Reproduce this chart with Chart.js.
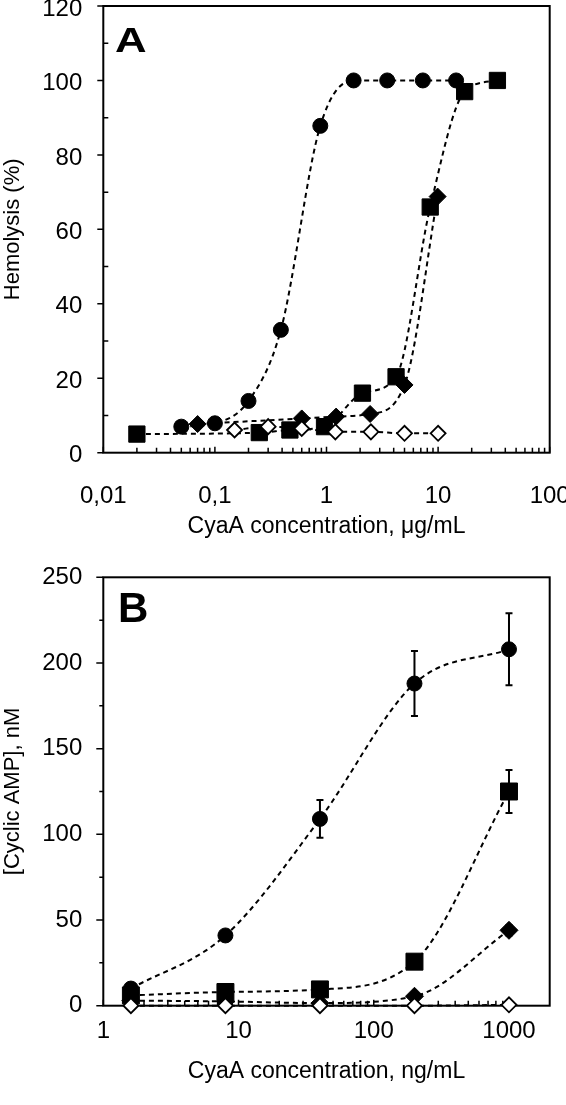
<!DOCTYPE html>
<html>
<head>
<meta charset="utf-8">
<script src="https://cdn.jsdelivr.net/npm/chart.js@4.4.1/dist/chart.umd.min.js"></script>
<style>
  body { margin: 0; background: #fff; }
  canvas { display: block; }
  #wrapA { height: 560px; overflow: hidden; }
  #chartA { margin-top: -20px; }
</style>
</head>
<body>
<div id="wrapA"><canvas id="chartA" width="566" height="580"></canvas></div>
<canvas id="chartB" width="566" height="545"></canvas>
<script>
// Panel A - hemolysis vs CyaA (ug/mL)
var hemoCircleX = [0.05, 0.1, 0.2, 0.39, 0.88, 1.75, 3.5, 7.3, 14.5];
var hemoCircleY = [7.0, 7.9, 13.9, 33, 87.8, 100, 100, 100, 100];
var hemoSquareX = [0.02, 0.25, 0.47, 0.96, 2.1, 4.2, 8.5, 17.3, 34];
var hemoSquareY = [5.0, 5.4, 6.1, 7.0, 16, 20.4, 66, 97, 100];
var hemoDiamondX = [0.07, 0.6, 1.22, 2.46, 5.0, 9.9];
var hemoDiamondY = [7.7, 9.2, 9.7, 10.4, 18.2, 68.8];
var hemoOpenX = [0.15, 0.3, 0.6, 1.2, 2.5, 5, 10];
var hemoOpenY = [6.1, 7.0, 6.5, 5.6, 5.6, 5.2, 5.2];
var hemoXTicks = [0.01, 0.1, 1, 10, 100];
var hemoXLabels = ['0,01', '0,1', '1', '10', '100'];

// Panel B - cAMP vs CyaA (ng/mL)
var campX = [1.6, 8, 40, 200, 1000];
var campCircle = [10, 41, 109, 188, 208];
var campCircleErr = [0, 2, 11, 19, 21];
var campSquare = [6, 8, 9.5, 25.7, 125];
var campSquareErr = [0, 0, 0, 0, 12.5];
var campDiamond = [3, 2.5, 1.5, 5.5, 44];
var campDiamondErr = [0, 0, 0, 0, 3];
var campOpen = [0, 0, 0, 0, 0.5];
var campOpenErr = [0, 0, 0, 0, 1];
var campXTicks = [1, 10, 100, 1000];
var campXLabels = ['1', '10', '100', '1000'];

Chart.defaults.font.family = '"Liberation Sans", Arial, Helvetica, sans-serif';
Chart.defaults.color = '#000';

function pts(xs, ys) {
  return xs.map(function(x, i) { return { x: x, y: ys[i] }; });
}

function series(xs, ys, style, radius, filled, order, errs) {
  return {
    data: pts(xs, ys),
    errors: errs,
    order: order,
    borderColor: '#000',
    borderWidth: 2,
    borderDash: [5, 4],
    cubicInterpolationMode: 'monotone',
    fill: false,
    clip: false,
    pointStyle: style,
    pointRadius: radius,
    pointBorderWidth: filled ? 1 : 1.8,
    pointBorderColor: '#000',
    pointBackgroundColor: filled ? '#000' : '#fff'
  };
}

function minorLog(min, max) {
  var out = [];
  for (var d = min; d < max; d *= 10) {
    for (var k = 2; k <= 9; k++) {
      if (k * d < max) out.push(k * d);
    }
  }
  return out;
}

// frame, tick marks, error bars and panel letter
var decorPlugin = {
  id: 'decor',
  beforeDatasetsDraw: function(chart, args, o) {
    var ctx = chart.ctx, a = chart.chartArea, xs = chart.scales.x, ys = chart.scales.y;
    ctx.save();
    ctx.strokeStyle = '#000';
    ctx.lineWidth = 2;
    ctx.strokeRect(a.left, a.top, a.right - a.left, a.bottom - a.top);
    ctx.lineWidth = 1.5;
    ctx.beginPath();
    o.yMajor.forEach(function(v) {
      var p = ys.getPixelForValue(v);
      ctx.moveTo(a.left, p); ctx.lineTo(a.left - o.yMajorLen, p);
    });
    o.yMinor.forEach(function(v) {
      var p = ys.getPixelForValue(v);
      ctx.moveTo(a.left, p); ctx.lineTo(a.left - o.yMinorLen, p);
    });
    o.xMajor.forEach(function(v) {
      var p = xs.getPixelForValue(v);
      ctx.moveTo(p, a.bottom); ctx.lineTo(p, a.bottom + o.xMajorLen);
    });
    minorLog(o.xMajor[0], xs.max).forEach(function(v) {
      var p = xs.getPixelForValue(v);
      ctx.moveTo(p, a.bottom); ctx.lineTo(p, a.bottom + o.xMinorLen);
    });
    ctx.stroke();

    // error bars
    ctx.lineWidth = 2;
    chart.data.datasets.forEach(function(ds, i) {
      if (!ds.errors) return;
      var meta = chart.getDatasetMeta(i);
      ds.data.forEach(function(d, j) {
        var e = ds.errors[j];
        if (!e) return;
        var px = meta.data[j].x;
        var top = ys.getPixelForValue(d.y + e), bot = ys.getPixelForValue(d.y - e);
        ctx.beginPath();
        ctx.moveTo(px, top); ctx.lineTo(px, bot);
        ctx.moveTo(px - 3.5, top); ctx.lineTo(px + 3.5, top);
        ctx.moveTo(px - 3.5, bot); ctx.lineTo(px + 3.5, bot);
        ctx.stroke();
      });
    });

    // panel letter
    ctx.fillStyle = '#000';
    ctx.font = o.letterFont;
    ctx.textBaseline = 'alphabetic';
    ctx.translate(a.left + o.letterDx, a.top + o.letterDy);
    ctx.scale(o.letterSx, 1);
    ctx.fillText(o.letter, 0, 0);
    ctx.restore();
  }
};

function makeChart(id, cfg) {
  return new Chart(document.getElementById(id), {
    type: 'line',
    data: { datasets: cfg.datasets },
    plugins: [decorPlugin],
    options: {
      responsive: false,
      animation: false,
      layout: { padding: { left: 0, right: 16.3, top: cfg.top, bottom: 0 } },
      plugins: {
        legend: { display: false },
        tooltip: { enabled: false },
        decor: cfg.decor
      },
      scales: {
        x: {
          type: 'logarithmic',
          min: cfg.xMin,
          max: cfg.xMax,
          grid: { display: false },
          border: { display: false },
          afterBuildTicks: function(s) {
            s.ticks = cfg.xTicks.map(function(v) { return { value: v }; });
          },
          afterFit: function(s) {
            s.height = cfg.xHeight;
            s.paddingLeft = 0;
            s.paddingRight = 0;
          },
          ticks: {
            autoSkip: false,
            maxRotation: 0,
            minRotation: 0,
            padding: cfg.xTickPad,
            font: { size: 24 },
            callback: function(v, i) { return cfg.xLabels[i]; }
          },
          title: {
            display: true,
            text: cfg.xTitle,
            font: { size: 23 },
            padding: { top: 0, bottom: 20 }
          }
        },
        y: {
          min: 0,
          max: cfg.yMax,
          grid: { display: false },
          border: { display: false },
          afterFit: function(s) {
            s.width = 103.3;
            s.paddingTop = 0;
            s.paddingBottom = 0;
          },
          ticks: {
            stepSize: cfg.yStep,
            padding: 13,
            labelOffset: cfg.yLabelOffset,
            font: { size: 24 }
          },
          title: {
            display: true,
            text: cfg.yTitle,
            font: { size: 22 },
            padding: { top: 0, bottom: 0 }
          }
        }
      }
    }
  });
}

window.onload = function() {
  makeChart('chartA', {
    top: 26,
    xMin: 0.01, xMax: 100, xHeight: 107.3, xTickPad: 21,
    xTicks: hemoXTicks, xLabels: hemoXLabels,
    xTitle: 'CyaA concentration, \u03BCg/mL',
    yMax: 120, yStep: 20, yTitle: 'Hemolysis (%)', yLabelOffset: 3,
    datasets: [
      series(hemoOpenX, hemoOpenY, 'rectRot', 7.5, false, 0),
      series(hemoCircleX, hemoCircleY, 'circle', 7.5, true, 1),
      series(hemoDiamondX, hemoDiamondY, 'rectRot', 8.5, true, 2),
      series(hemoSquareX, hemoSquareY, 'rect', 11.5, true, 3)
    ],
    decor: {
      yMajor: [0, 20, 40, 60, 80, 100, 120], yMajorLen: 6,
      yMinor: [10, 30, 50, 70, 90, 110], yMinorLen: -5,
      xMajor: hemoXTicks, xMajorLen: -6, xMinorLen: -5,
      letter: 'A', letterFont: 'bold 35px "Liberation Sans", Arial, sans-serif',
      letterDx: 11.7, letterDy: 46, letterSx: 1.25
    }
  });

  makeChart('chartB', {
    top: 17.3,
    xMin: 1, xMax: 2000, xHeight: 99.3, xTickPad: 3,
    xTicks: campXTicks, xLabels: campXLabels,
    xTitle: 'CyaA concentration, ng/mL',
    yMax: 250, yStep: 50, yTitle: '[Cyclic AMP], nM', yLabelOffset: 0,
    datasets: [
      series(campX, campOpen, 'rectRot', 7.5, false, 0, campOpenErr),
      series(campX, campCircle, 'circle', 7.5, true, 1, campCircleErr),
      series(campX, campDiamond, 'rectRot', 9, true, 2, campDiamondErr),
      series(campX, campSquare, 'rect', 12, true, 3, campSquareErr)
    ],
    decor: {
      yMajor: [0, 50, 100, 150, 200, 250], yMajorLen: 7,
      yMinor: [25, 75, 125, 175, 225], yMinorLen: 4,
      xMajor: campXTicks, xMajorLen: -6, xMinorLen: -5,
      letter: 'B', letterFont: 'bold 42px "Liberation Sans", Arial, sans-serif',
      letterDx: 14.7, letterDy: 44.4, letterSx: 1
    }
  });
};
</script>
</body>
</html>
